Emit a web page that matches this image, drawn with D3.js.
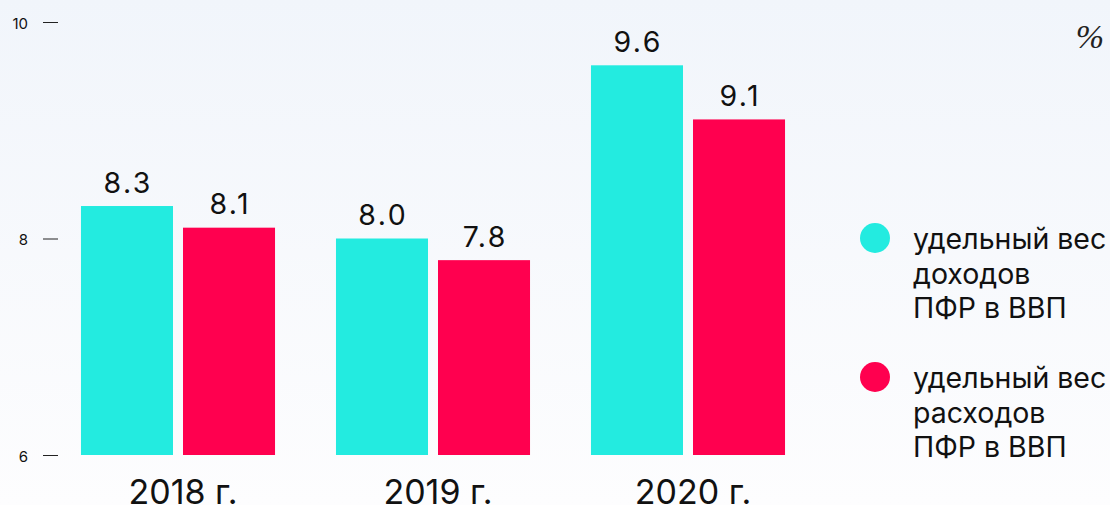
<!DOCTYPE html>
<html><head><meta charset="utf-8">
<script src="https://cdn.jsdelivr.net/npm/d3@7"></script>
<style>html,body{margin:0;padding:0;overflow:hidden}svg{display:block}</style>
</head><body>
<script>
const years = ["2018 г.", "2019 г.", "2020 г."];
const seriesNames = ["удельный вес доходов ПФР в ВВП", "удельный вес расходов ПФР в ВВП"];
const incomeValues = [8.3, 8.0, 9.6];
const expenseValues = [8.1, 7.8, 9.1];
const valueLabels = [["8.3","8.1"],["8.0","7.8"],["9.6","9.1"]];
const yTicks = [6, 8, 10];
const legendLines = [["удельный вес","доходов","ПФР в ВВП"],["удельный вес","расходов","ПФР в ВВП"]];
const colors = ["#23ebe0", "#ff004f"];

const W = 1110, H = 505;
const svg = d3.select("body").append("svg").attr("width", W).attr("height", H);
const defs = svg.append("defs");
const grad = defs.append("linearGradient").attr("id","bg").attr("x1",0).attr("y1",0).attr("x2",0).attr("y2",1);
grad.append("stop").attr("offset","0%").attr("stop-color","#f1f5fb");
grad.append("stop").attr("offset","100%").attr("stop-color","#fdfdfe");
svg.append("rect").attr("width",W).attr("height",H).attr("fill","url(#bg)");

const font = "Inter, 'Noto Sans', sans-serif";
const y = d3.scaleLinear().domain([6, 10]).range([455, 22]);
const x = d3.scaleBand().domain(years).range([50.5, 815.5]).paddingInner(0.239).paddingOuter(0.1195);
const xs = d3.scaleBand().domain([0,1]).range([0, x.bandwidth()]).paddingInner(0.098).paddingOuter(0);

// y axis ticks
const yAxis = svg.append("g");
yTicks.forEach(t => {
  yAxis.append("line").attr("x1",43).attr("x2",58).attr("y1",y(t)+0.5).attr("y2",y(t)+0.5)
    .attr("stroke","#222").attr("stroke-width",1);
  yAxis.append("text").attr("x",28).attr("y",y(t)+6.5).attr("text-anchor","end")
    .attr("font-family",font).attr("font-size",15).attr("fill","#111").text(t);
});

const data = years.map((yr,i)=>({yr, vals:[incomeValues[i], expenseValues[i]], labels:valueLabels[i]}));
const g = svg.selectAll("g.grp").data(data).join("g").attr("class","grp")
  .attr("transform", d => `translate(${x(d.yr)},0)`);
g.selectAll("rect").data(d => d.vals.map((v,k)=>({v,k}))).join("rect")
  .attr("x", d => xs(d.k)).attr("width", xs.bandwidth())
  .attr("y", d => y(d.v)).attr("height", d => y(6) - y(d.v))
  .attr("fill", d => colors[d.k]);
g.selectAll("text.val").data(d => d.vals.map((v,k)=>({v,k,l:d.labels[k]}))).join("text").attr("class","val")
  .attr("x", d => xs(d.k) + xs.bandwidth()/2 + 1.2).attr("y", d => y(d.v) - 13.5)
  .attr("text-anchor","middle").attr("font-family",font).attr("font-size",28.5)
  .attr("letter-spacing","2.4px").attr("fill","#111")
  .text(d => d.l);
g.append("text").attr("x", x.bandwidth()/2 + 5).attr("y", 504).attr("text-anchor","middle")
  .attr("font-family",font).attr("font-size",34).attr("fill","#111").text(d => d.yr);

// percent sign
svg.append("text").attr("x",1104).attr("y",48).attr("text-anchor","end")
  .attr("font-family","'Liberation Serif', serif").attr("font-style","italic")
  .attr("font-size",34).attr("fill","#222").text("%");

// legend
const lg = svg.selectAll("g.lg").data(legendLines).join("g").attr("class","lg")
  .attr("transform",(d,i)=>`translate(0,${i*139})`);
lg.append("circle").attr("cx",875).attr("cy",238).attr("r",15).attr("fill",(d,i)=>colors[i]);
lg.each(function(lines){
  const sel = d3.select(this);
  lines.forEach((ln,j)=>{
    sel.append("text").attr("x",913).attr("y",249 + j*34.5).attr("font-family",font)
      .attr("font-size",28.5).attr("fill","#111").text(ln);
  });
});
</script>
</body></html>
